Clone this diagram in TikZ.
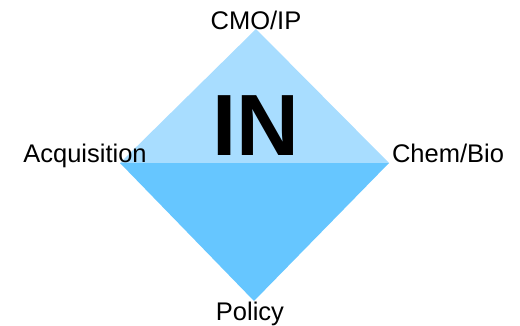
\documentclass[tikz,border=0pt]{standalone}
\usepackage{fontspec}
\setmainfont{Liberation Sans}
\definecolor{upperblue}{HTML}{A8DDFF}
\definecolor{lowerblue}{HTML}{66C6FF}
\tikzset{
  lbl/.style={anchor=base, inner sep=0pt, font=\fontsize{25.5}{28}\selectfont},
  big/.style={anchor=base, inner sep=0pt, font=\fontsize{87}{90}\selectfont\bfseries}
}
\begin{document}
\begin{tikzpicture}[x=1pt,y=1pt]
\useasboundingbox (0,0) rectangle (520,325);
\coordinate (top) at (256,296);
\coordinate (left) at (120,162);
\coordinate (right) at (389,162);
\coordinate (bottom) at (254,24);
\fill[upperblue] (top) -- (left) -- (right) -- cycle;
\fill[lowerblue] (left) -- (right) -- (bottom) -- cycle;
\node[big] (in) at (256,170) {IN};
\node[lbl] (cmo) at (256,296) {CMO/IP};
\node[lbl] (acq) at (85,163) {Acquisition};
\node[lbl] (chem) at (448,163) {Chem/Bio};
\node[lbl] (pol) at (250,5) {Policy};
\end{tikzpicture}
\end{document}
